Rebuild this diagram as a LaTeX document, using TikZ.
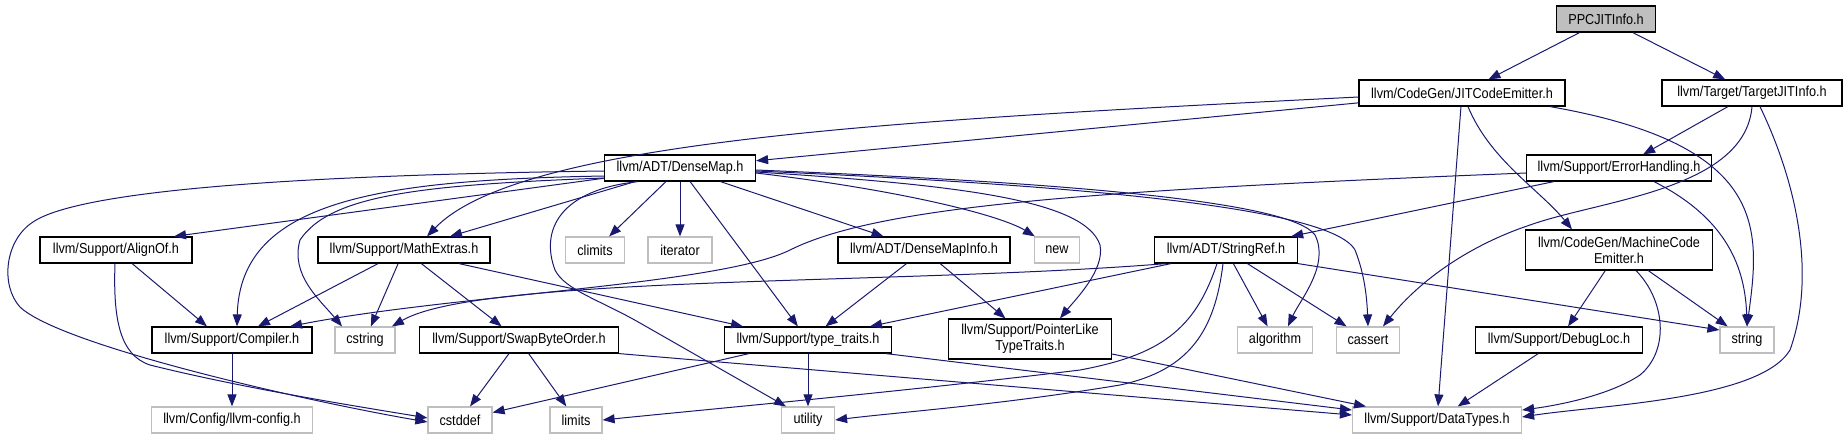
\documentclass[tikz,border=0pt]{standalone}
\usepackage{fontspec}
\setmainfont{Liberation Sans}[FakeStretch=0.88]
\usetikzlibrary{arrows.meta}
\definecolor{navyline}{RGB}{25,25,112}
\definecolor{grayline}{RGB}{191,191,191}
\tikzset{
  hdr/.style={draw=black,line width=1.2pt,fill=white,inner sep=0pt,minimum height=26pt,
    font=\fontsize{14.4}{16}\selectfont,align=center},
  sys/.style={hdr,draw=grayline},
  cur/.style={hdr,fill=grayline},
  bw/.style={minimum width=#1pt},
  dep/.style={-{Triangle[length=12pt,width=9pt]},line width=1pt,navyline},
}

\begin{document}
\begin{tikzpicture}[x=1pt,y=-1pt]
  \useasboundingbox (0,0) rectangle (1847,440);
  % row 0-2
  \node[cur,bw=99] (ppc) at (1606,19) {PPCJITInfo.h};
  \node[hdr,bw=206] (jit) at (1462,93) {llvm/CodeGen/JITCodeEmitter.h};
  \node[hdr,bw=180] (tji) at (1752,93) {llvm/Target/TargetJITInfo.h};
  \node[hdr,bw=151] (dm) at (680,168) {llvm/ADT/DenseMap.h};
  \node[hdr,bw=185] (eh) at (1619,168) {llvm/Support/ErrorHandling.h};
  % row 3
  \node[hdr,bw=152] (align) at (116,250) {llvm/Support/AlignOf.h};
  \node[hdr,bw=172] (math) at (404,250) {llvm/Support/MathExtras.h};
  \node[sys,bw=59] (climits) at (595,250) {climits};
  \node[sys,bw=64] (iter) at (680,250) {iterator};
  \node[hdr,bw=172] (dmi) at (924,250) {llvm/ADT/DenseMapInfo.h};
  \node[sys,bw=45] (new) at (1057,250) {new};
  \node[hdr,bw=143] (sref) at (1226,250) {llvm/ADT/StringRef.h};
  \node[hdr,bw=187,minimum height=40pt] (mce) at (1619,250) {llvm/CodeGen/MachineCode\\Emitter.h};
  % row 4
  \node[hdr,bw=160] (comp) at (232,340) {llvm/Support/Compiler.h};
  \node[sys,bw=60] (cstring) at (365,340) {cstring};
  \node[hdr,bw=199] (swap) at (519,340) {llvm/Support/SwapByteOrder.h};
  \node[hdr,bw=167] (tt) at (808,340) {llvm/Support/type\_traits.h};
  \node[hdr,bw=163,minimum height=40pt] (pl) at (1030,339) {llvm/Support/PointerLike\\TypeTraits.h};
  \node[sys,bw=75] (algo) at (1275,340) {algorithm};
  \node[sys,bw=63] (cassert) at (1368,340) {cassert};
  \node[hdr,bw=167] (dloc) at (1559,340) {llvm/Support/DebugLoc.h};
  \node[sys,bw=54] (string) at (1747,340) {string};
  % row 5
  \node[sys,bw=161] (cfg) at (232,420) {llvm/Config/llvm-config.h};
  \node[sys,bw=64] (cstddef) at (460,420) {cstddef};
  \node[sys,bw=52] (limits) at (576,420) {limits};
  \node[sys,bw=53] (utility) at (808,420) {utility};
  \node[sys,bw=169] (dt) at (1437,420) {llvm/Support/DataTypes.h};

  \draw[dep] (ppc) -- (jit);
  \draw[dep] (ppc) -- (tji);
  \draw[dep] (jit) -- (dm);
  \draw[dep] ([yshift=-4]jit.west) .. controls (900,120) and (520,140) .. ([xshift=23]math.north);
  \draw[dep] (jit) -- (dt);
  \draw[dep] ([xshift=6]jit.south) .. controls (1490,160) and (1540,190) .. ([xshift=-47]mce.north);
  \draw[dep] ([xshift=88]jit.south) .. controls (1770,145) and (1760,230) .. (string.north);
  \draw[dep] (tji) -- (eh);
  \draw[dep] (tji.south) .. controls (1745,190) and (1600,200) .. (1530,225)
    .. controls (1470,245) and (1420,280) .. ([xshift=15]cassert.north);
  \draw[dep] ([xshift=8]tji.south) .. controls (1800,190) and (1815,280) .. (1790,350)
    .. controls (1760,400) and (1600,405) .. ([yshift=3]dt.east);
  \draw[dep] ([yshift=-5]eh.west) .. controls (1100,190) and (880,205) .. (790,250)
    .. controls (720,285) and (450,295) .. ([xshift=58]comp.north);
  \draw[dep] (eh) -- (sref);
  \draw[dep] ([xshift=35]eh.south) .. controls (1720,215) and (1745,260) .. (string.north);

  \draw[dep] (dm) -- ([xshift=58]align.north);
  \draw[dep] ([yshift=-3]dm.west) .. controls (300,175) and (80,190) .. (33,222)
    .. controls (5,240) and (0,285) .. (20,307)
    .. controls (60,345) and (300,400) .. ([yshift=-2]cstddef.west);
  \draw[dep] ([yshift=-8]dm.west) .. controls (380,180) and (240,200) .. ([xshift=5]comp.north);
  \draw[dep] ([yshift=-10]dm.west) .. controls (420,185) and (330,195) .. (300,240)
    .. controls (290,275) and (320,300) .. ([xshift=-23]cstring.north);
  \draw[dep] ([xshift=-45]dm.south) -- ([xshift=46]math.north);
  \draw[dep] (dm) -- (climits);
  \draw[dep] (dm) -- (iter);
  \draw[dep] (dm) -- (tt);
  \draw[dep] (dm) -- (dmi);
  \draw[dep] ([yshift=-5]dm.east) .. controls (900,190) and (1000,215) .. (new);
  \draw[dep] ([xshift=-42]dm.south) .. controls (560,190) and (540,230) .. (555,270)
    .. controls (565,290) and (600,300) .. (640,323) -- ([xshift=-22]utility.north);
  \draw[dep] ([yshift=-4]dm.east) .. controls (960,185) and (1085,200) .. (1100,245)
    .. controls (1105,270) and (1075,300) .. ([xshift=30]pl.north);
  \draw[dep] ([yshift=-2]dm.east) .. controls (1050,182) and (1290,200) .. (1315,235)
    .. controls (1330,265) and (1300,300) .. ([xshift=13]algo.north);
  \draw[dep] ([yshift=-3]dm.east) .. controls (1050,184) and (1330,205) .. (1355,250)
    .. controls (1365,275) and (1367,300) .. (cassert.north);

  \draw[dep] (align) -- ([xshift=-25]comp.north);
  \draw[dep] ([xshift=-1]align.south) .. controls (113,320) and (120,355) .. (150,365)
    .. controls (250,390) and (380,410) .. ([yshift=2]cstddef.west);
  \draw[dep] (math) -- (comp);
  \draw[dep] (math) -- (cstring);
  \draw[dep] (math) -- (swap);
  \draw[dep] ([xshift=55]math.south) -- ([xshift=-65]tt.north);
  \draw[dep] (comp) -- (cfg);
  \draw[dep] (swap) -- (cstddef);
  \draw[dep] (swap) -- (limits);
  \draw[dep] (swap.south east) -- ([yshift=5]dt.west);
  \draw[dep] (tt) -- (cstddef);
  \draw[dep] (tt) -- (utility);
  \draw[dep] ([xshift=78]tt.south) -- ([yshift=10]dt.west);
  \draw[dep] (dmi) -- (tt);
  \draw[dep] (dmi) -- (pl);
  \draw[dep] ([yshift=-15]pl.east) -- ([xshift=-71]dt.north);

  \draw[dep] ([xshift=-60]sref.south) .. controls (900,285) and (480,275) .. ([xshift=27]cstring.north);
  \draw[dep] ([xshift=-55]sref.south) -- ([xshift=62]tt.north);
  \draw[dep] ([xshift=-9]sref.south) .. controls (1195,330) and (1160,355) .. (1080,370)
    .. controls (900,392) and (700,410) .. (limits.east);
  \draw[dep] ([xshift=-3]sref.south) .. controls (1215,330) and (1190,370) .. (1120,385)
    .. controls (1000,405) and (900,412) .. (utility.east);
  \draw[dep] (sref) -- (algo);
  \draw[dep] (sref) -- (cassert);
  \draw[dep] (sref.south east) -- ([yshift=10]string.west);
  \draw[dep] (mce) -- (dloc);
  \draw[dep] ([xshift=17]mce.south) .. controls (1665,300) and (1670,350) .. (1640,375)
    .. controls (1610,395) and (1560,405) .. ([yshift=10]dt.east);
  \draw[dep] (mce) -- (string);
  \draw[dep] (dloc) -- (dt);
\end{tikzpicture}
\end{document}
